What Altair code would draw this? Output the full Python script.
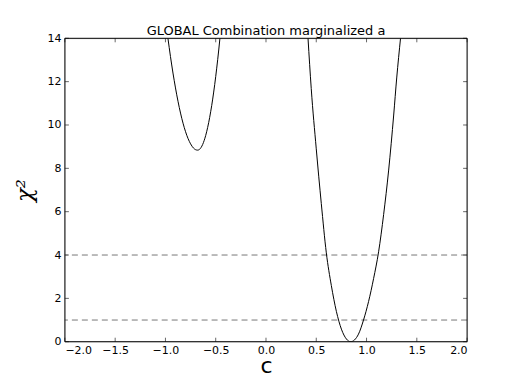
import altair as alt
import pandas as pd

# Left curve (secondary minimum)
c_left = [-0.975, -0.95, -0.90, -0.85, -0.80, -0.75, -0.72, -0.70, -0.68, -0.66, -0.63, -0.60, -0.56, -0.52, -0.48, -0.458]
chi_left = [14.0, 13.16, 11.71, 10.55, 9.69, 9.13, 8.93, 8.86, 8.84, 8.88, 9.10, 9.51, 10.35, 11.52, 13.03, 14.0]

# Right curve (global minimum)
c_right = [0.418, 0.45, 0.50, 0.55, 0.60, 0.65, 0.70, 0.75, 0.80, 0.843, 0.88, 0.92, 0.97, 1.02, 1.07, 1.12, 1.17, 1.22, 1.27, 1.30, 1.338]
chi_right = [14.0, 11.68, 8.90, 6.38, 4.10, 2.59, 1.40, 0.58, 0.124, 0.0, 0.081, 0.35, 1.0, 1.85, 2.91, 4.15, 5.87, 7.92, 10.46, 12.17, 14.0]

levels = [1, 4]
x_ticks = [-2.0, -1.5, -1.0, -0.5, 0.0, 0.5, 1.0, 1.5, 2.0]
y_ticks = [0, 2, 4, 6, 8, 10, 12, 14]

W, H = 403, 304

df = pd.concat([
    pd.DataFrame({"c": c_left, "chi2": chi_left, "branch": "left"}),
    pd.DataFrame({"c": c_right, "chi2": chi_right, "branch": "right"}),
])

xs = alt.Scale(domain=[-2, 2], nice=False, zero=False)
ys = alt.Scale(domain=[0, 14], nice=False, zero=False)

lab = dict(labelFont="DejaVu Sans", labelFontSize=11, labelColor="black", ticks=False, domain=False, grid=False)

x_enc = alt.X("c:Q", scale=xs, axis=alt.Axis(values=x_ticks, format=".1f", labelPadding=3,
              title="c", titleFont="DejaVu Sans", titleFontSize=22, titleFontWeight="normal",
              titlePadding=0, **lab))
y_enc = alt.Y("chi2:Q", scale=ys, axis=alt.Axis(values=y_ticks, format="d", labelPadding=4,
              title="χ²", titleFont="DejaVu Serif", titleFontSize=23, titleFontWeight="normal",
              titleFontStyle="italic", titlePadding=10, **lab))

curves = alt.Chart(df).mark_line(color="black", strokeWidth=1, clip=True, interpolate="monotone").encode(
    x=x_enc, y=y_enc, detail="branch:N")

dash = alt.Chart(pd.DataFrame({"lev": levels})).mark_rule(
    color="#777777", strokeWidth=1, strokeDash=[6, 4]).encode(y=alt.Y("lev:Q", scale=ys))

xt = pd.DataFrame({"t": x_ticks})
yt = pd.DataFrame({"t": y_ticks})
tick_col = "#666666"
xb = alt.Chart(xt).mark_rule(color=tick_col).encode(x=alt.X("t:Q", scale=xs), y=alt.value(H), y2=alt.value(H - 4))
xtp = alt.Chart(xt).mark_rule(color=tick_col).encode(x=alt.X("t:Q", scale=xs), y=alt.value(0), y2=alt.value(4))
yl = alt.Chart(yt).mark_rule(color=tick_col).encode(y=alt.Y("t:Q", scale=ys), x=alt.value(0), x2=alt.value(4))
yr = alt.Chart(yt).mark_rule(color=tick_col).encode(y=alt.Y("t:Q", scale=ys), x=alt.value(W), x2=alt.value(W - 4))

frame = alt.Chart(pd.DataFrame({"k": [0]})).mark_rect(fill=None, stroke="black", strokeWidth=1).encode(
    x=alt.value(0), x2=alt.value(W), y=alt.value(0), y2=alt.value(H))

chart = alt.layer(dash, curves, xb, xtp, yl, yr, frame).properties(
    width=W, height=H,
    title=alt.TitleParams("GLOBAL Combination marginalized a", font="DejaVu Sans", fontSize=13,
                          fontWeight="normal", color="black", offset=-6),
    autosize=alt.AutoSizeParams(type="none"),
    padding={"left": 57, "top": 30, "right": 45, "bottom": 40},
).configure_view(strokeWidth=0).configure(background="white")

chart.save("out.html", embed_options={"renderer": "svg", "actions": False})
